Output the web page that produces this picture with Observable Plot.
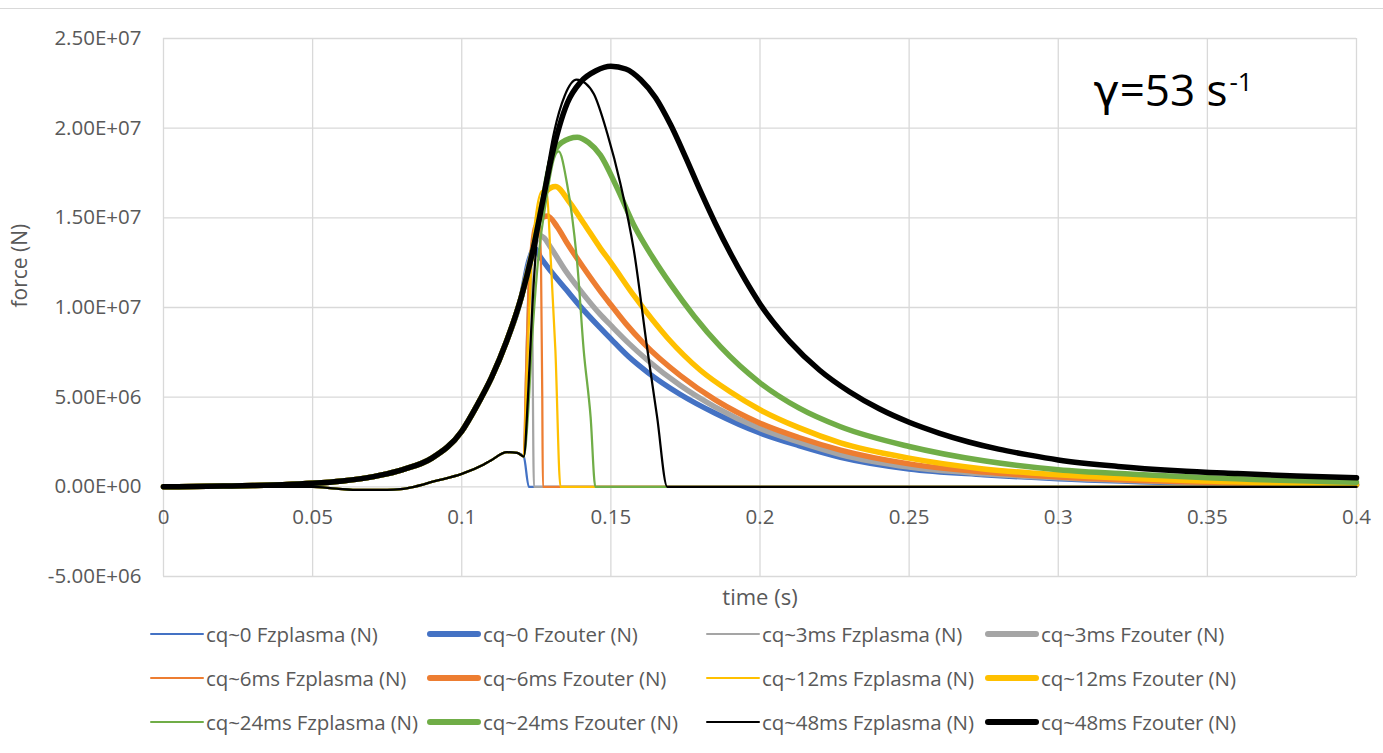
<!DOCTYPE html>
<html><head><meta charset="utf-8">
<script src="https://cdn.jsdelivr.net/npm/d3@7"></script>
<script src="https://cdn.jsdelivr.net/npm/@observablehq/plot@0.6"></script>
<style>
body{margin:0;background:#fff;font-family:"Open Sans",sans-serif;}
#wrap{position:relative;width:1383px;height:753px;overflow:hidden;background:#fff}
#topline{height:8px;border-bottom:1px solid #d9d9d9}
#chart svg{display:block}
#legend{position:absolute;left:150px;top:612px;display:grid;grid-template-columns:277px 279px 279px 340px;grid-auto-rows:44px}
.item{display:flex;align-items:center;font-size:20.5px;color:#595959;white-space:nowrap;letter-spacing:-0.1px}
.sw{width:54px;margin-right:2px;border-radius:3px;flex:none}
</style></head>
<body><div id="wrap"><div id="topline"></div><div id="chart"></div><div id="legend"></div></div>
<script>
// ---------- axis ticks ----------
const xTicks = [0, 0.05, 0.1, 0.15, 0.2, 0.25, 0.3, 0.35, 0.4];
const xTickLabels = ["0", "0.05", "0.1", "0.15", "0.2", "0.25", "0.3", "0.35", "0.4"];
const yTicks = [-5e6, 0, 5e6, 1e7, 1.5e7, 2e7, 2.5e7];
const yTickLabels = ["-5.00E+06", "0.00E+00", "5.00E+06", "1.00E+07", "1.50E+07", "2.00E+07", "2.50E+07"];
const xTitle = "time (s)";
const yTitle = "force (N)";
const annotGamma = "γ";
const annotMain = "=53 s";
const annotSup = "-1";

// ---------- series (force values in units of 1e6 N) ----------
const seriesNames = [
  "cq~0 Fzplasma (N)", "cq~0 Fzouter (N)",
  "cq~3ms Fzplasma (N)", "cq~3ms Fzouter (N)",
  "cq~6ms Fzplasma (N)", "cq~6ms Fzouter (N)",
  "cq~12ms Fzplasma (N)", "cq~12ms Fzouter (N)",
  "cq~24ms Fzplasma (N)", "cq~24ms Fzouter (N)",
  "cq~48ms Fzplasma (N)", "cq~48ms Fzouter (N)"
];
const cqColors = ["#4472C4", "#A5A5A5", "#ED7D31", "#FFC000", "#70AD47", "#000000"];

// common part of all Fzplasma curves, before current-quench onset
const plasmaPreT = [0, 0.03, 0.05, 0.058, 0.066, 0.075, 0.0795, 0.084, 0.0906, 0.1, 0.1074, 0.1096, 0.1152, 0.1186, 0.1208];
const plasmaPreF = [0, 0, 0, -0.1, -0.17, -0.17, -0.13, 0, 0.3, 0.72, 1.25, 1.45, 1.93, 1.9, 1.69];

// Fzplasma after onset, per cq
const plasma0T  = [0.1225, 0.4];
const plasma0F  = [0, 0];
const plasma3T  = [0.1218, 0.123, 0.1236, 0.1242, 0.4];
const plasma3F  = [8, 13.2, 10, 0, 0];
const plasma6T  = [0.1215, 0.1228, 0.1245, 0.126, 0.1266, 0.127, 0.1272, 0.4];
const plasma6F  = [6, 12.5, 14.6, 14.8, 12, 5, 0, 0];
const plasma12T = [0.1218, 0.1232, 0.1252, 0.127, 0.1285, 0.1298, 0.1314, 0.1331, 0.4];
const plasma12F = [6, 12, 15.5, 16.5, 16.4, 12.8, 7.6, 0, 0];
const plasma24T = [0.1222, 0.1235, 0.1253, 0.1285, 0.1309, 0.1325, 0.1353, 0.137, 0.1387, 0.1409, 0.1432, 0.1448, 0.4];
const plasma24F = [4, 8, 12.1, 16.2, 18.3, 18.7, 16.9, 15.07, 12.5, 7.6, 3.9, 0, 0];
const plasma48T = [0.1222, 0.1235, 0.125, 0.128, 0.131, 0.1345, 0.1385, 0.1415, 0.1443, 0.1488, 0.1532, 0.1577, 0.1622, 0.1655, 0.1689, 0.4];
const plasma48F = [5, 9.5, 13.5, 17, 19.8, 21.8, 22.7, 22.5, 21.9, 19.7, 16.9, 13.2, 7.7, 3.9, 0, 0];

// Fzouter for cq~48ms (also the common early part of all Fzouter curves)
const outer48T = [0, 0.01, 0.02, 0.03, 0.04, 0.05, 0.06, 0.068, 0.0728, 0.08, 0.09, 0.1, 0.105, 0.11, 0.115, 0.12, 0.124, 0.127, 0.13, 0.1354, 0.14, 0.145, 0.15, 0.155, 0.16, 0.165, 0.17, 0.175, 0.18, 0.185, 0.19, 0.195, 0.2, 0.21, 0.22, 0.23, 0.24, 0.25, 0.26, 0.27, 0.28, 0.29, 0.3, 0.32, 0.34, 0.36, 0.38, 0.4];
const outer48F = [0, 0.02, 0.04, 0.07, 0.12, 0.2, 0.33, 0.5, 0.65, 0.95, 1.6, 3.1, 4.5, 6.1, 8.1, 10.6, 13.3, 15.8, 18.3, 21.4, 22.6, 23.2, 23.45, 23.3, 22.7, 21.7, 20.2, 18.4, 16.5, 14.7, 13.05, 11.55, 10.2, 8.1, 6.5, 5.3, 4.35, 3.6, 3.0, 2.5, 2.1, 1.78, 1.5, 1.14, 0.9, 0.74, 0.6, 0.5];

// Fzouter tails after leaving the common curve
const outer0T  = [0.1225, 0.1245, 0.1264, 0.13, 0.135, 0.1398, 0.1465, 0.15, 0.156, 0.1622, 0.1733, 0.185, 0.2, 0.213, 0.227, 0.25, 0.275, 0.3, 0.35, 0.4];
const outer0F  = [12.6, 13.3, 12.8, 12.0, 11.0, 10.05, 8.85, 8.25, 7.25, 6.4, 5.15, 4.1, 3.0, 2.3, 1.65, 1.0, 0.68, 0.45, 0.2, 0.1];
const outer3T  = [0.1262, 0.1275, 0.13, 0.135, 0.14, 0.1465, 0.15, 0.156, 0.162, 0.1733, 0.185, 0.2, 0.213, 0.227, 0.25, 0.275, 0.3, 0.35, 0.4];
const outer3F  = [14.0, 13.9, 13.3, 12.0, 10.9, 9.6, 9.0, 8.0, 7.1, 5.65, 4.45, 3.25, 2.5, 1.8, 1.1, 0.73, 0.5, 0.22, 0.11];
const outer6T  = [0.126, 0.1287, 0.132, 0.1353, 0.1409, 0.1465, 0.15, 0.155, 0.161, 0.1733, 0.185, 0.2, 0.213, 0.227, 0.25, 0.275, 0.3, 0.35, 0.4];
const outer6F  = [14.9, 15.1, 14.5, 13.6, 12.2, 10.9, 10.15, 9.1, 8.0, 6.2, 4.85, 3.55, 2.75, 2.05, 1.28, 0.82, 0.55, 0.25, 0.12];
const outer12T = [0.1265, 0.1285, 0.1314, 0.136, 0.1409, 0.1465, 0.15, 0.158, 0.169, 0.18, 0.19, 0.2, 0.213, 0.227, 0.25, 0.275, 0.3, 0.35, 0.4];
const outer12F = [15.6, 16.5, 16.75, 15.9, 14.7, 13.3, 12.5, 10.6, 8.3, 6.5, 5.3, 4.3, 3.3, 2.45, 1.6, 1.0, 0.67, 0.32, 0.15];
const outer24T = [0.1335, 0.1387, 0.1425, 0.1465, 0.152, 0.158, 0.164, 0.17, 0.178, 0.1868, 0.2, 0.213, 0.227, 0.25, 0.275, 0.3, 0.325, 0.35, 0.4];
const outer24F = [19.2, 19.5, 19.2, 18.5, 16.7, 14.5, 12.8, 11.3, 9.5, 7.8, 5.8, 4.4, 3.35, 2.25, 1.45, 0.95, 0.7, 0.5, 0.26];
// time until which each Fzouter follows the common (cq~48ms) curve
const outerDepart = [0.12, 0.124, 0.124, 0.124, 0.13];

// ---------- build tables ----------
const S = 1e6;
const zip = (T, F) => T.map((t, i) => ({t, f: F[i] * S}));
const plasmaPre = zip(plasmaPreT, plasmaPreF);
const plasmaTails = [zip(plasma0T, plasma0F), zip(plasma3T, plasma3F), zip(plasma6T, plasma6F), zip(plasma12T, plasma12F), zip(plasma24T, plasma24F), zip(plasma48T, plasma48F)];
const outerCommon = zip(outer48T, outer48F);
const outerTails = [zip(outer0T, outer0F), zip(outer3T, outer3F), zip(outer6T, outer6F), zip(outer12T, outer12F), zip(outer24T, outer24F)];

const plasmaSeries = plasmaTails.map(tail => plasmaPre.concat(tail));
const outerSeries = outerTails.map((tail, i) => outerCommon.filter(d => d.t <= outerDepart[i]).concat(tail));
outerSeries.push(outerCommon);

const thinW = 2.25, thickW = 5.5;
const lineMarks = [];
for (let i = 0; i < 6; i++) {
  lineMarks.push(Plot.line(plasmaSeries[i], {x: "t", y: "f", stroke: cqColors[i], strokeWidth: thinW, curve: "monotone-x", strokeLinejoin: "round", strokeLinecap: "round"}));
  lineMarks.push(Plot.line(outerSeries[i], {x: "t", y: "f", stroke: cqColors[i], strokeWidth: thickW, curve: "monotone-x", strokeLinejoin: "round", strokeLinecap: "round"}));
}

const tickColor = "#595959";
const chart = Plot.plot({
  width: 1383,
  height: 606,
  marginLeft: 163,
  marginRight: 27,
  marginTop: 29,
  marginBottom: 39,
  x: {domain: [0, 0.4], axis: null},
  y: {domain: [-5e6, 2.5e7], axis: null},
  style: {fontFamily: "'Open Sans', sans-serif", background: "white", overflow: "visible"},
  marks: [
    Plot.ruleX(xTicks, {x: d => d, stroke: "#d9d9d9", strokeWidth: 1.3}),
    Plot.ruleY(yTicks, {y: d => d, stroke: "#d9d9d9", strokeWidth: 1.3}),
    Plot.text(yTicks, {y: d => d, frameAnchor: "left", text: (d, i) => yTickLabels[i], dx: -22, textAnchor: "end", fontSize: 20.5, fill: tickColor}),
    Plot.text(xTicks, {x: d => d, y: 0, text: (d, i) => xTickLabels[i], dy: 31, fontSize: 20.5, fill: tickColor}),
    ...lineMarks,
    Plot.text([annotGamma], {text: d => d, frameAnchor: "top-right", dx: -237, dy: 36, lineAnchor: "top", textAnchor: "end", fontSize: 44, fill: "#000", fontFamily: "'DejaVu Sans', sans-serif"}),
    Plot.text([annotMain], {text: d => d, frameAnchor: "top-right", dx: -129, dy: 36, lineAnchor: "top", textAnchor: "end", fontSize: 44, fill: "#000"}),
    Plot.text([annotSup], {text: d => d, frameAnchor: "top-right", dx: -127, dy: 34, lineAnchor: "top", textAnchor: "start", fontSize: 26, fill: "#000"}),
    Plot.text([yTitle], {text: d => d, frameAnchor: "left", dx: -143, rotate: -90, fontSize: 21, fill: tickColor}),
    Plot.text([xTitle], {text: d => d, frameAnchor: "bottom", dy: 28, fontSize: 22, fill: tickColor})
  ]
});
document.getElementById("chart").appendChild(chart);

// ---------- legend ----------
const legend = document.getElementById("legend");
seriesNames.forEach((name, k) => {
  const cq = Math.floor(k / 2), thick = k % 2 === 1;
  const item = document.createElement("div");
  item.className = "item";
  const sw = document.createElement("div");
  sw.className = "sw";
  sw.style.background = cqColors[cq];
  sw.style.height = (thick ? 6 : 2.5) + "px";
  item.appendChild(sw);
  const tx = document.createElement("span");
  tx.textContent = name;
  item.appendChild(tx);
  legend.appendChild(item);
});
</script></body></html>
